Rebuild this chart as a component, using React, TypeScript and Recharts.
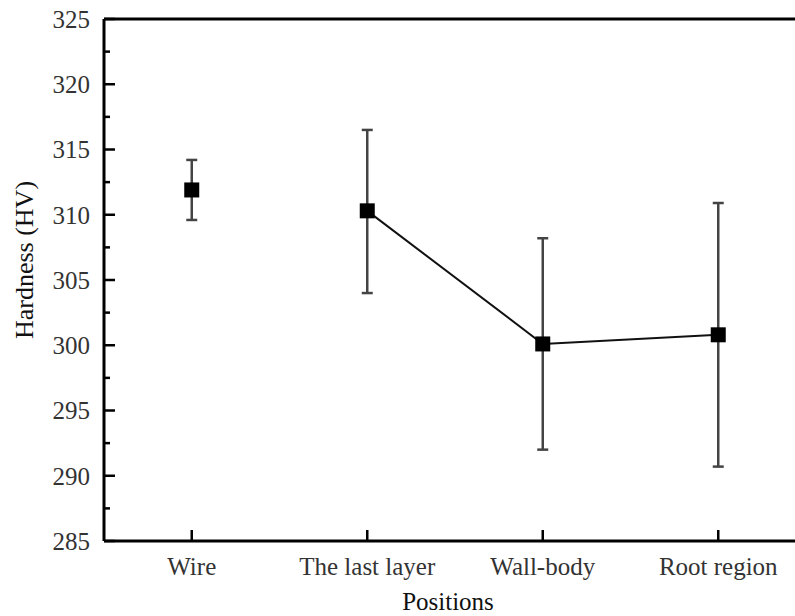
import { ComposedChart, Line, XAxis, YAxis, ErrorBar, ReferenceLine, Label } from 'recharts';

// Hardness at each position
const positions = ['Wire', 'The last layer', 'Wall-body', 'Root region'];
const hardness = [311.9, 310.3, 300.1, 300.8];
const errLower = [2.3, 6.3, 8.1, 10.1];
const errUpper = [2.3, 6.2, 8.1, 10.1];
// the wire point stands alone, the other three are joined by a line
const joined = [false, true, true, true];

const yMajorTicks = [285, 290, 295, 300, 305, 310, 315, 320, 325];
const yMinorTicks = [287.5, 292.5, 297.5, 302.5, 307.5, 312.5, 317.5, 322.5];

const data = positions.map((position, i) => ({
  position,
  line: joined[i] ? hardness[i] : null,
  lineErr: joined[i] ? [errLower[i], errUpper[i]] : null,
  single: joined[i] ? null : hardness[i],
  singleErr: joined[i] ? null : [errLower[i], errUpper[i]],
}));

const FONT = "'Liberation Serif', serif";

const SquareDot = (props: any) => {
  const { cx, cy, index } = props;
  if (cx == null || cy == null) return <g key={index} />;
  return <rect key={index} x={cx - 7.5} y={cy - 7.5} width={15} height={15} fill="#000" />;
};

const YTick = ({ x, y, payload }: any) => {
  const major = yMajorTicks.includes(payload.value);
  const axisX = x + 14;
  return (
    <g>
      <line x1={axisX} x2={axisX + (major ? 11 : 6)} y1={y} y2={y} stroke="#000" strokeWidth={2.5} />
      {major && (
        <text x={x} y={y} dy="0.35em" textAnchor="end" style={{ fontFamily: FONT, fontSize: 25, fill: '#333' }}>
          {payload.value}
        </text>
      )}
    </g>
  );
};

const XTick = ({ x, y, payload }: any) => {
  const axisY = y - 16;
  return (
    <g>
      <line x1={x} x2={x} y1={axisY} y2={axisY - 11} stroke="#000" strokeWidth={2.5} />
      <text x={x} y={y} dy="0.71em" textAnchor="middle" style={{ fontFamily: FONT, fontSize: 25, fill: '#333' }}>
        {payload.value}
      </text>
    </g>
  );
};

export default function App() {
  return (
    <div
      style={{
        position: 'absolute',
        left: 0,
        top: 0,
        width: 795,
        height: 616,
        overflow: 'hidden',
        background: '#fff',
        fontFamily: FONT,
      }}
    >
      <ComposedChart width={830} height={616} data={data} margin={{ top: 19, right: 24, bottom: 30, left: 0 }}>
        <XAxis
          dataKey="position"
          type="category"
          scale="band"
          height={45}
          tickSize={0}
          tickMargin={16}
          tickLine={false}
          tick={<XTick />}
          axisLine={{ stroke: '#000', strokeWidth: 3 }}
        >
          <Label
            value="Positions"
            position="bottom"
            offset={6}
            dx={-7}
            style={{ fontFamily: FONT, fontSize: 25, fill: '#111' }}
          />
        </XAxis>
        <YAxis
          type="number"
          domain={[285, 325]}
          ticks={[...yMajorTicks, ...yMinorTicks].sort((a, b) => a - b)}
          interval={0}
          width={104}
          tickSize={0}
          tickMargin={14}
          tickLine={false}
          tick={<YTick />}
          axisLine={{ stroke: '#000', strokeWidth: 3 }}
        >
          <Label
            value="Hardness (HV)"
            angle={-90}
            position="center"
            dx={-28}
            dy={-20}
            style={{ fontFamily: FONT, fontSize: 26, fill: '#111' }}
          />
        </YAxis>
        <ReferenceLine y={325} stroke="#000" strokeWidth={3} />
        <Line
          dataKey="line"
          stroke="#111"
          strokeWidth={2}
          dot={SquareDot}
          activeDot={false}
          connectNulls={false}
          isAnimationActive={false}
        >
          <ErrorBar dataKey="lineErr" direction="y" width={5.5} stroke="#444" strokeWidth={2.5} />
        </Line>
        <Line
          dataKey="single"
          stroke="none"
          dot={SquareDot}
          activeDot={false}
          isAnimationActive={false}
        >
          <ErrorBar dataKey="singleErr" direction="y" width={5.5} stroke="#444" strokeWidth={2.5} />
        </Line>
      </ComposedChart>
    </div>
  );
}
